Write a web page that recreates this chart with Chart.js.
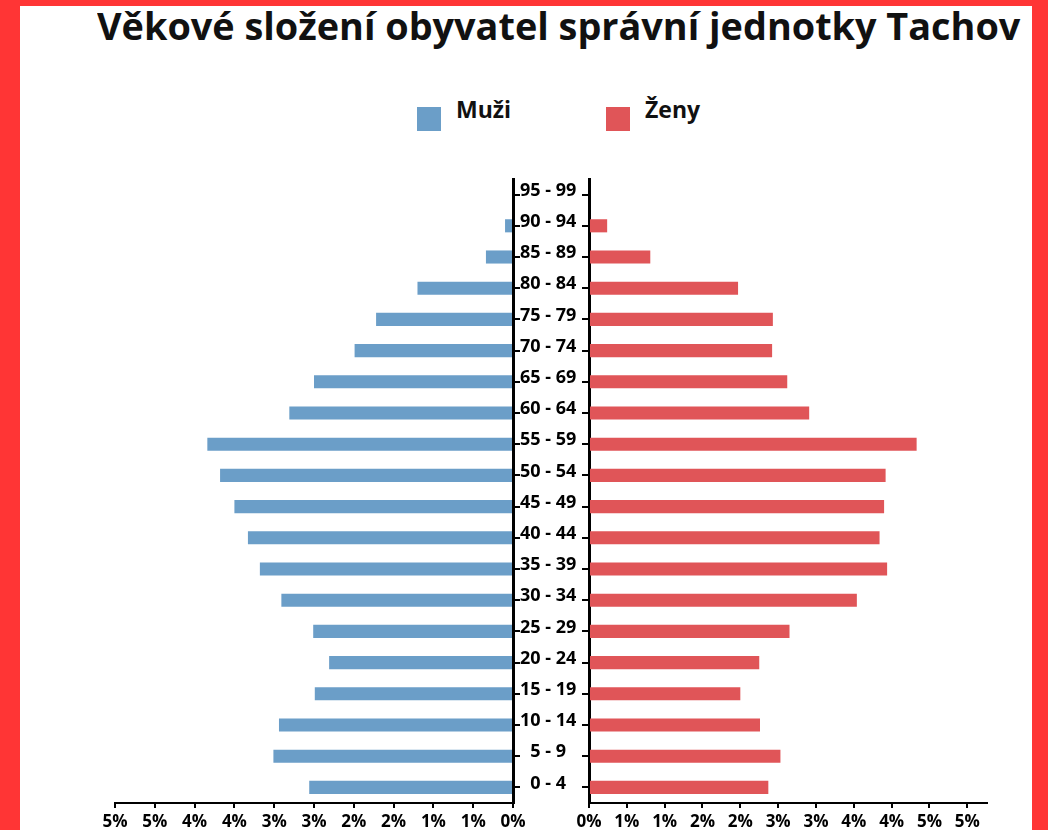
<!DOCTYPE html>
<html lang="cs">
<head>
<meta charset="utf-8">
<title>Věkové složení obyvatel</title>
<script src="https://cdn.jsdelivr.net/npm/chart.js@4"></script>
<style>
    html, body {
        margin: 0;
        padding: 0;
        width: 1048px;
        height: 830px;
        overflow: hidden;
        background: #fff;
        font-family: "Open Sans", sans-serif;
    }
    .frame-left, .frame-right, .frame-top {
        position: absolute;
        background: #ff3535;
        z-index: 5;
    }
    .frame-left { left: 0; top: 0; width: 20px; height: 830px; }
    .frame-right { left: 1032px; top: 0; width: 16px; height: 830px; }
    .frame-top { left: 0; top: 0; width: 1048px; height: 6px; }
    #title {
        position: absolute;
        left: 97px;
        top: 0px;
        font-size: 37px;
        font-weight: 700;
        color: #111;
        white-space: nowrap;
        transform-origin: 0 0;
    }
    .legend-item {
        position: absolute;
        top: 93px;
        font-size: 23px;
        font-weight: 700;
        color: #111;
    }
    .legend-box {
        position: absolute;
        top: 107px;
        width: 24px;
        height: 24px;
    }
    .chart-box { position: absolute; top: 150px; height: 680px; }
</style>
</head>
<body>
<div class="frame-top"></div>
<div class="frame-left"></div>
<div class="frame-right"></div>

<div id="title">Věkové složení obyvatel správní jednotky Tachov</div>

<div class="legend-box" id="boxMen" style="left:417px"></div>
<div class="legend-item" style="left:456px">Muži</div>
<div class="legend-box" id="boxWomen" style="left:606px"></div>
<div class="legend-item" style="left:645px">Ženy</div>

<div class="chart-box" style="left:0;width:600px"><canvas id="menChart"></canvas></div>
<div class="chart-box" style="left:560px;width:488px"><canvas id="womenChart"></canvas></div>

<script>
// age groups, top to bottom
const ageGroups = [
    '95 - 99', '90 - 94', '85 - 89', '80 - 84', '75 - 79', '70 - 74',
    '65 - 69', '60 - 64', '55 - 59', '50 - 54', '45 - 49', '40 - 44',
    '35 - 39', '30 - 34', '25 - 29', '20 - 24', '15 - 19', '10 - 14',
    '5 - 9', '0 - 4'
];

// share of population in %
const menShare = [
    0, 0.10, 0.34, 1.20, 1.72, 1.99,
    2.50, 2.81, 3.84, 3.68, 3.50, 3.33,
    3.18, 2.91, 2.51, 2.31, 2.49, 2.94,
    3.01, 2.56
];
const womenShare = [
    0, 0.24, 0.81, 1.97, 2.43, 2.42,
    2.62, 2.91, 4.33, 3.92, 3.90, 3.84,
    3.94, 3.54, 2.65, 2.25, 2.00, 2.26,
    2.53, 2.37
];

const menColor = '#6b9ec8';
const womenColor = '#e05558';

const tickFont = { family: 'Open Sans', size: 17, weight: 'bold' };
const ageFont = { family: 'Open Sans', size: 18, weight: 'bold' };

// squeeze the title to its box width
const titleEl = document.getElementById('title');
titleEl.style.transform = 'scaleX(' + (923 / titleEl.offsetWidth) + ')';

document.getElementById('boxMen').style.background = menColor;
document.getElementById('boxWomen').style.background = womenColor;

function percentLabel(value) {
    return Math.round(value) + '%';
}

function xAxis(max, reverse) {
    return {
        type: 'linear',
        min: 0,
        max: max,
        reverse: reverse,
        border: { display: true, color: '#000', width: 2 },
        grid: { drawOnChartArea: false, drawTicks: true, tickLength: 5, color: '#000', lineWidth: 2 },
        ticks: {
            stepSize: 0.5,
            includeBounds: false,
            maxRotation: 0,
            autoSkip: false,
            padding: 4,
            color: '#000',
            font: tickFont,
            callback: percentLabel
        },
        afterFit: (scale) => { scale.height = 27; }
    };
}

const baseOptions = {
    indexAxis: 'y',
    responsive: true,
    maintainAspectRatio: false,
    animation: false,
    plugins: {
        legend: { display: false },
        tooltip: { enabled: false }
    }
};

new Chart(document.getElementById('menChart'), {
    type: 'bar',
    data: {
        labels: ageGroups,
        datasets: [{
            label: 'Muži',
            data: menShare,
            backgroundColor: menColor,
            barPercentage: 0.42,
            categoryPercentage: 1
        }]
    },
    options: {
        ...baseOptions,
        layout: { padding: { left: 115, right: 0, top: 29, bottom: 0 } },
        scales: {
            x: xAxis(5, true),
            y: {
                position: 'right',
                border: { display: true, color: '#000', width: 3 },
                grid: { offset: false, drawOnChartArea: false, tickLength: 7, color: '#000', lineWidth: 2 },
                ticks: {
                    crossAlign: 'center',
                    padding: 0,
                    labelOffset: -4,
                    color: '#000',
                    font: ageFont
                },
                afterFit: (scale) => { scale.width = 87; }
            }
        }
    }
});

new Chart(document.getElementById('womenChart'), {
    type: 'bar',
    data: {
        labels: ageGroups,
        datasets: [{
            label: 'Ženy',
            data: womenShare,
            backgroundColor: womenColor,
            barPercentage: 0.42,
            categoryPercentage: 1
        }]
    },
    options: {
        ...baseOptions,
        layout: { padding: { left: 0, right: 61, top: 29, bottom: 0 } },
        scales: {
            x: xAxis(5.26, false),
            y: {
                position: 'left',
                border: { display: true, color: '#000', width: 3 },
                grid: { offset: false, drawOnChartArea: false, tickLength: 7, color: '#000', lineWidth: 2 },
                ticks: { display: false },
                afterFit: (scale) => { scale.width = 29; }
            }
        }
    }
});
</script>
</body>
</html>
